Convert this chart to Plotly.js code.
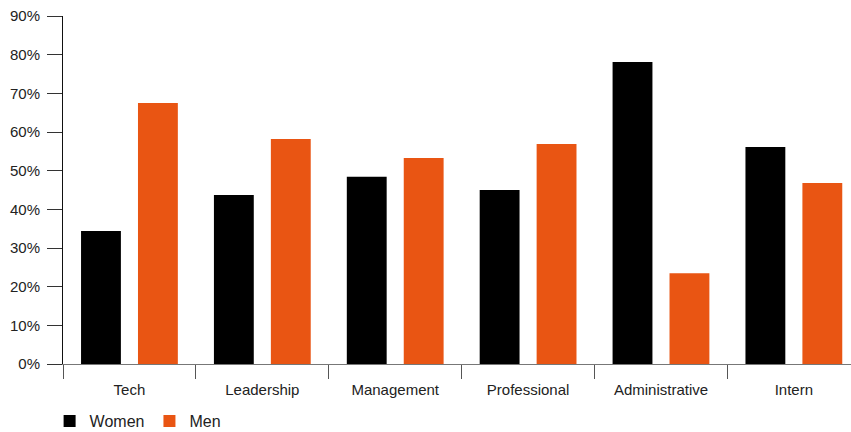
<!DOCTYPE html>
<html>
<head>
<meta charset="utf-8">
<script src="https://cdn.plot.ly/plotly-3.0.1.min.js"></script>
<style>html,body{margin:0;padding:0;background:#fff;overflow:hidden}#chart{width:851px;height:432px}</style>
</head>
<body>
<div id="chart"></div>
<script>
var categories = ["Tech", "Leadership", "Management", "Professional", "Administrative", "Intern"];
var women = [34.4, 43.7, 48.4, 45.0, 78.1, 56.1];
var men = [67.5, 58.2, 53.3, 56.9, 23.5, 46.8];
var yTickVals = [0, 10, 20, 30, 40, 50, 60, 70, 80, 90];
var yTickText = ["0%", "10%", "20%", "30%", "40%", "50%", "60%", "70%", "80%", "90%"];

var traces = [
  {type: "bar", name: "Women", x: categories, y: women, marker: {color: "#000000"}, hoverinfo: "none"},
  {type: "bar", name: "Men", x: categories, y: men, marker: {color: "#E95513"}, hoverinfo: "none"}
];

var layout = {
  width: 851, height: 432,
  margin: {l: 63, r: 0, t: 16, b: 68, autoexpand: false},
  paper_bgcolor: "#fff", plot_bgcolor: "#fff",
  font: {family: "Liberation Sans, Arial, sans-serif", color: "#222", size: 15},
  barmode: "group", bargap: 0.143, bargroupgap: 0.3,
  xaxis: {
    type: "category", range: [-0.5, 5.43], showgrid: false, zeroline: false, automargin: false,
    showline: true, linecolor: "#777", linewidth: 1,
    ticks: "outside", tickson: "boundaries", ticklen: 14, tickcolor: "#555", tickwidth: 1,
    ticklabelstandoff: 12,
    tickfont: {size: 15, color: "#222"}
  },
  yaxis: {
    range: [0, 90], tickmode: "array", tickvals: yTickVals, ticktext: yTickText,
    showgrid: false, zeroline: false, automargin: false,
    showline: true, linecolor: "#111", linewidth: 1,
    ticks: "outside", ticklen: 15, tickcolor: "#333", tickwidth: 1,
    ticklabelstandoff: 4,
    tickfont: {size: 15, color: "#222"}
  },
  showlegend: true,
  legend: {orientation: "h", x: -0.017, xanchor: "left", y: -0.115, yanchor: "top",
           font: {size: 16, color: "#222"}, bgcolor: "rgba(0,0,0,0)", traceorder: "normal"}
};

Plotly.newPlot("chart", traces, layout, {staticPlot: true, displayModeBar: false});
</script>
</body>
</html>
